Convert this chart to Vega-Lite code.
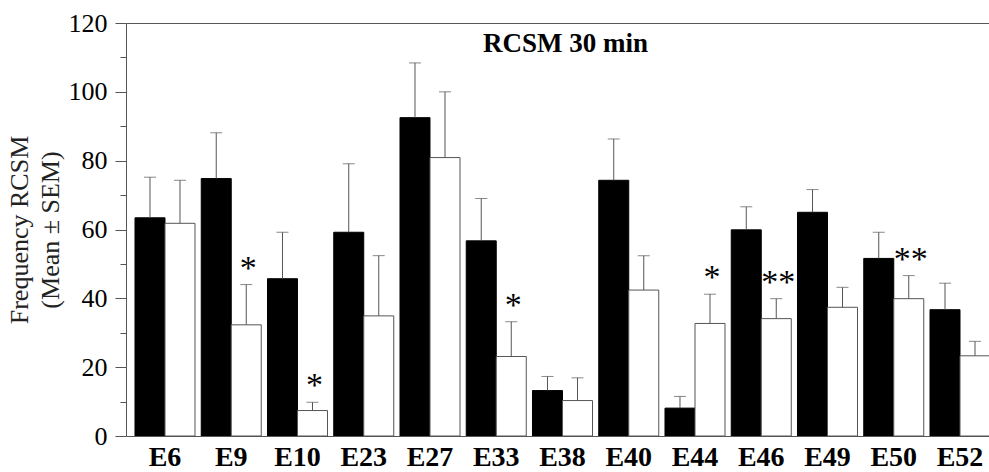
{
  "$schema": "https://vega.github.io/schema/vega-lite/v6.json",
  "autosize": "none",
  "padding": {"left": 126, "top": 23, "right": 0, "bottom": 36},
  "width": 863,
  "height": 413,
  "background": "white",
  "config": {"view": {"stroke": null}, "font": "Liberation Serif"},
  "title": {
    "text": "RCSM 30 min",
    "font": "Liberation Serif",
    "fontSize": 27,
    "fontWeight": "bold",
    "color": "#000000",
    "anchor": "middle",
    "frame": "group",
    "baseline": "alphabetic",
    "offset": -29,
    "dx": 8,
    "dy": 40
  },
  "data": {
    "values": [
      {"gene": "E6", "group": "Control", "mean": 63.4, "upper": 75.2, "sig": ""},
      {"gene": "E6", "group": "Treated", "mean": 61.8, "upper": 74.3, "sig": ""},
      {"gene": "E9", "group": "Control", "mean": 74.8, "upper": 88.1, "sig": ""},
      {"gene": "E9", "group": "Treated", "mean": 32.3, "upper": 44.0, "sig": "*"},
      {"gene": "E10", "group": "Control", "mean": 45.7, "upper": 59.2, "sig": ""},
      {"gene": "E10", "group": "Treated", "mean": 7.4, "upper": 9.8, "sig": "*"},
      {"gene": "E23", "group": "Control", "mean": 59.2, "upper": 79.1, "sig": ""},
      {"gene": "E23", "group": "Treated", "mean": 34.9, "upper": 52.4, "sig": ""},
      {"gene": "E27", "group": "Control", "mean": 92.5, "upper": 108.4, "sig": ""},
      {"gene": "E27", "group": "Treated", "mean": 80.9, "upper": 100.0, "sig": ""},
      {"gene": "E33", "group": "Control", "mean": 56.7, "upper": 69.0, "sig": ""},
      {"gene": "E33", "group": "Treated", "mean": 23.1, "upper": 33.2, "sig": "*"},
      {"gene": "E38", "group": "Control", "mean": 13.2, "upper": 17.3, "sig": ""},
      {"gene": "E38", "group": "Treated", "mean": 10.3, "upper": 16.9, "sig": ""},
      {"gene": "E40", "group": "Control", "mean": 74.3, "upper": 86.3, "sig": ""},
      {"gene": "E40", "group": "Treated", "mean": 42.4, "upper": 52.4, "sig": ""},
      {"gene": "E44", "group": "Control", "mean": 8.1, "upper": 11.5, "sig": ""},
      {"gene": "E44", "group": "Treated", "mean": 32.7, "upper": 41.2, "sig": "*"},
      {"gene": "E46", "group": "Control", "mean": 59.9, "upper": 66.6, "sig": ""},
      {"gene": "E46", "group": "Treated", "mean": 34.1, "upper": 39.9, "sig": "**"},
      {"gene": "E49", "group": "Control", "mean": 65.0, "upper": 71.6, "sig": ""},
      {"gene": "E49", "group": "Treated", "mean": 37.4, "upper": 43.2, "sig": ""},
      {"gene": "E50", "group": "Control", "mean": 51.6, "upper": 59.2, "sig": ""},
      {"gene": "E50", "group": "Treated", "mean": 39.9, "upper": 46.6, "sig": "**"},
      {"gene": "E52", "group": "Control", "mean": 36.7, "upper": 44.4, "sig": ""},
      {"gene": "E52", "group": "Treated", "mean": 23.3, "upper": 27.5, "sig": ""}
    ]
  },
  "encoding": {
    "x": {
      "field": "gene",
      "type": "nominal",
      "sort": null,
      "scale": {"range": [0, 873], "paddingInner": 0.0943, "paddingOuter": 0.1358}
    },
    "xOffset": {"field": "group", "type": "nominal", "sort": ["Control", "Treated"]}
  },
  "layer": [
    {
      "mark": {"type": "bar", "strokeWidth": 1, "clip": true},
      "encoding": {
        "x": {
          "field": "gene", "type": "nominal", "sort": null,
          "axis": {
            "orient": "bottom",
            "title": null,
            "labelAngle": 0,
            "labelFont": "Liberation Serif",
            "labelFontSize": 28,
            "labelFontWeight": "bold",
            "labelColor": "#000000",
            "labelPadding": 7,
            "ticks": false,
            "domainColor": "#555555",
            "grid": false
          }
        },
        "y": {
          "field": "mean", "type": "quantitative",
          "scale": {"domain": [0, 120], "nice": false},
          "axis": {
            "values": [0, 20, 40, 60, 80, 100, 120],
            "title": ["Frequency RCSM", "(Mean ± SEM)"],
            "titleFont": "Liberation Serif",
            "titleFontSize": 26,
            "titleFontWeight": "normal",
            "titleColor": "#222222",
            "titleLineHeight": 31,
            "titlePadding": 5,
            "labelFont": "Liberation Serif",
            "labelFontSize": 26,
            "labelColor": "#000000",
            "labelPadding": 8,
            "tickSize": 11,
            "tickColor": "#555555",
            "domainColor": "#555555",
            "grid": false
          }
        },
        "fill": {"field": "group", "type": "nominal", "scale": {"domain": ["Control", "Treated"], "range": ["#000000", "#ffffff"]}, "legend": null},
        "stroke": {"field": "group", "type": "nominal", "scale": {"domain": ["Control", "Treated"], "range": ["#000000", "#555555"]}, "legend": null}
      }
    },
    {
      "mark": {"type": "rule", "color": "#555555", "strokeWidth": 1, "clip": true},
      "encoding": {
        "x": {
          "field": "gene", "type": "nominal", "sort": null,
          "axis": {"orient": "top", "title": null, "labels": false, "ticks": false, "domain": true, "domainColor": "#555555", "grid": false}
        },
        "y": {
          "field": "mean", "type": "quantitative",
          "axis": {"orient": "left", "values": [10, 30, 50, 70, 90, 110], "labels": false, "domain": false, "title": null, "tickSize": 6, "tickColor": "#555555", "grid": false}
        },
        "y2": {"field": "upper"}
      }
    },
    {
      "mark": {"type": "tick", "orient": "horizontal", "color": "#555555", "thickness": 1, "size": 12, "clip": true},
      "encoding": {
        "x": {"field": "gene", "type": "nominal", "sort": null, "axis": null},
        "y": {"field": "upper", "type": "quantitative", "axis": null}
      }
    },
    {
      "transform": [{"filter": "datum.sig != ''"}],
      "mark": {"type": "text", "font": "Liberation Serif", "fontSize": 34, "color": "#000000", "baseline": "alphabetic", "align": "center", "dy": -6, "dx": 2},
      "encoding": {
        "x": {"field": "gene", "type": "nominal", "sort": null, "axis": null},
        "y": {"field": "upper", "type": "quantitative", "axis": null},
        "text": {"field": "sig"}
      }
    }
  ],
  "resolve": {"axis": {"x": "independent", "y": "independent"}}
}
